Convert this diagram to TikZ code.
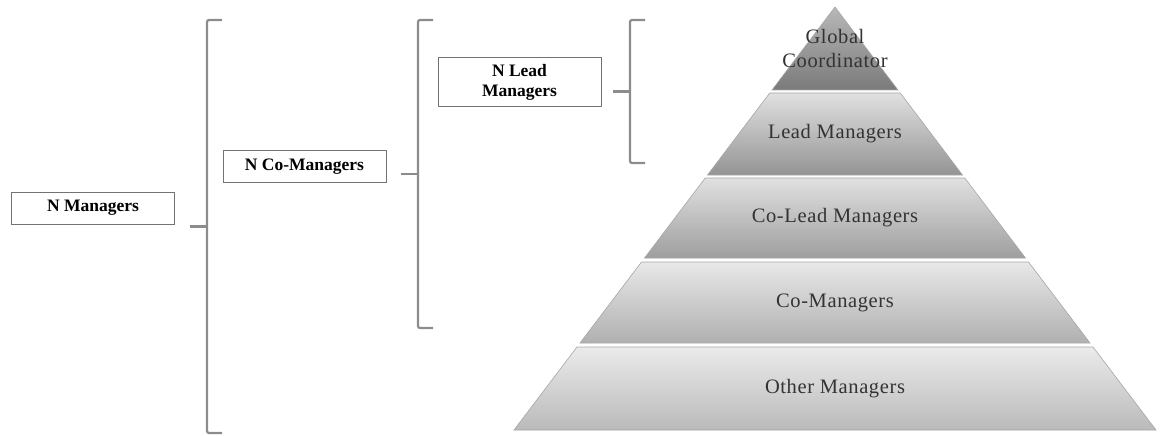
\documentclass[tikz,border=0pt]{standalone}
\usepackage{fontspec}
\setmainfont{Liberation Serif}
\newfontfamily\layerfont[LetterSpace=3]{Liberation Serif}
\usetikzlibrary{positioning,calc}

\begin{document}
\begin{tikzpicture}[x=1pt,y=-1pt,
    groupbox/.style={draw=black!55, line width=1pt, fill=white, minimum width=163pt,
      minimum height=32pt, align=center, inner sep=2pt,
      font=\fontsize{17.5}{19.5}\selectfont\bfseries},
    bracketline/.style={draw=black!45, line width=2.2pt, rounded corners=2pt},
    layertext/.style={text=black!80, align=center,
      font=\layerfont\fontsize{20.5}{24}\selectfont},
    layer/.style={draw=black!35, line width=0.6pt}]

  \useasboundingbox (0,0) rectangle (1163,436);

  % pyramid, apex at (835,7), half width grows 0.7589 per pt
  \foreach \ya/\yb/\name/\txt/\ct/\cb in {
      7/90/gc/{Global\\Coordinator}/28/52,
      93/175/lm/{Lead Managers}/12/42,
      178/258/clm/{Co-Lead Managers}/12/38,
      262/343/cm/{Co-Managers}/9/31,
      347/430/om/{Other Managers}/8/27}{
    \pgfmathsetmacro{\wa}{0.7589*(\ya-7)}
    \pgfmathsetmacro{\wb}{0.7589*(\yb-7)}
    \path[layer, top color=black!\ct, bottom color=black!\cb]
      (835-\wa,\ya) -- (835+\wa,\ya) -- (835+\wb,\yb) -- (835-\wb,\yb) -- cycle;
    \node[layertext] (\name) at (835,{(\ya+\yb)/2}) {\txt};
  }

  % group boxes
  \node[groupbox] (nman) at (93,208) {N Managers};
  \node[groupbox] (ncoman) at (304.5,166.5) {N Co-Managers};
  \node[groupbox, minimum height=49pt] (nlead) at (519.5,82.5)
    {N Lead\\Managers};

  % brackets
  \coordinate (b1t) at (207,20);  \coordinate (b1b) at (207,433);
  \coordinate (b2t) at (418,20);  \coordinate (b2b) at (418,328);
  \coordinate (b3t) at (630,20);  \coordinate (b3b) at (630,163);

  \draw[bracketline] ([xshift=15pt]b1t) -- (b1t) -- (b1b) -- ([xshift=15pt]b1b);
  \draw[bracketline] ([xshift=15pt]b2t) -- (b2t) -- (b2b) -- ([xshift=15pt]b2b);
  \draw[bracketline] ([xshift=15pt]b3t) -- (b3t) -- (b3b) -- ([xshift=15pt]b3b);

  % ticks from the boxes to the bracket middles
  \coordinate (b1m) at ($(b1t)!0.5!(b1b)$);
  \coordinate (b2m) at ($(b2t)!0.5!(b2b)$);
  \coordinate (b3m) at ($(b3t)!0.5!(b3b)$);
  \draw[bracketline] ([xshift=-17pt]b1m) -- (b1m);
  \draw[bracketline] ([xshift=-17pt]b2m) -- (b2m);
  \draw[bracketline] ([xshift=-17pt]b3m) -- (b3m);

\end{tikzpicture}
\end{document}
